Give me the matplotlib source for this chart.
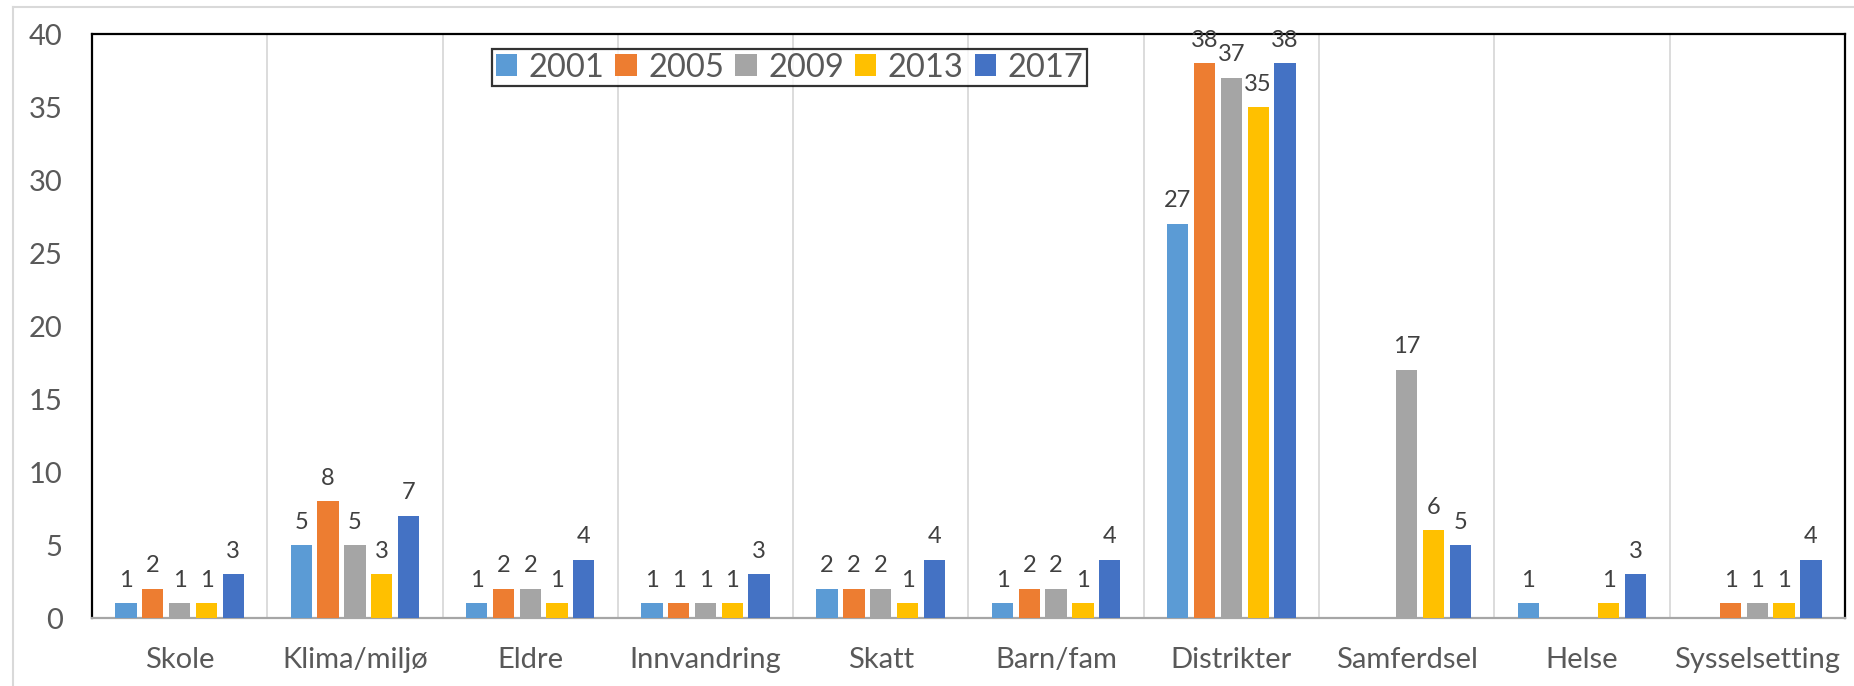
import numpy as np
import matplotlib.pyplot as plt
from matplotlib.lines import Line2D

plt.rcParams['font.family'] = ['Lato', 'DejaVu Sans']

categories = ['Skole', 'Klima/miljø', 'Eldre', 'Innvandring', 'Skatt',
              'Barn/fam', 'Distrikter', 'Samferdsel', 'Helse', 'Sysselsetting']
years = ['2001', '2005', '2009', '2013', '2017']
nan = np.nan
v2001 = [1, 5, 1, 1, 2, 1, 27, nan, 1, nan]
v2005 = [2, 8, 2, 1, 2, 2, 38, nan, nan, 1]
v2009 = [1, 5, 2, 1, 2, 2, 37, 17, nan, 1]
v2013 = [1, 3, 1, 1, 1, 1, 35, 6, 1, 1]
v2017 = [3, 7, 4, 3, 4, 4, 38, 5, 3, 4]
series = [v2001, v2005, v2009, v2013, v2017]
colors = ['#5B9BD5', '#ED7D31', '#A5A5A5', '#FFC000', '#4472C4']

fig = plt.figure(figsize=(18.54, 6.86), dpi=100)
ax = fig.add_axes([0.0496, 0.0991, 0.9455, 0.8513])

x = np.arange(len(categories))
pitch = 0.153
width = 0.1215
for i, (vals, col, yr) in enumerate(zip(series, colors, years)):
    pos = x + (i - 2) * pitch
    ax.bar(pos, vals, width, color=col, label=yr, zorder=3)
    for px, v in zip(pos, vals):
        if not np.isnan(v):
            ax.annotate(f'{int(v)}', (px, v), xytext=(0, 9),
                        textcoords='offset points', ha='center', va='bottom',
                        fontsize=17, color='#404040', zorder=4)

ax.set_xlim(-0.5, len(categories) - 0.5)
ax.set_ylim(0, 40)
ax.set_yticks(range(0, 41, 5))
ax.set_xticks(x)
ax.set_xticklabels(categories)
ax.tick_params(axis='both', length=0, labelsize=21, labelcolor='#595959')
ax.tick_params(axis='y', pad=21)
ax.tick_params(axis='x', pad=21)

for b in np.arange(0.5, len(categories) - 1, 1):
    ax.axvline(b, color='#D9D9D9', lw=1.3, zorder=1)

for s in ['top', 'left', 'right']:
    ax.spines[s].set_color('black')
    ax.spines[s].set_linewidth(1.6)
ax.spines['bottom'].set_color('#A6A6A6')
ax.spines['bottom'].set_linewidth(1.6)

leg = ax.legend(loc='upper left', bbox_to_anchor=(0.228, 0.975), ncol=5,
                fontsize=23.5, frameon=True, fancybox=False, handlelength=0.65,
                handleheight=0.65, handletextpad=0.35, columnspacing=0.35,
                borderpad=0.12, borderaxespad=0)
leg.get_frame().set_edgecolor('black')
leg.get_frame().set_linewidth(1.6)
for t in leg.get_texts():
    t.set_color('#595959')

# outer chart area border
fig.add_artist(Line2D([0.007, 0.007], [0, 0.99], color='#D9D9D9', lw=1.5))
fig.add_artist(Line2D([0.007, 1], [0.99, 0.99], color='#D9D9D9', lw=1.5))

fig.savefig('out.png', dpi=100)
